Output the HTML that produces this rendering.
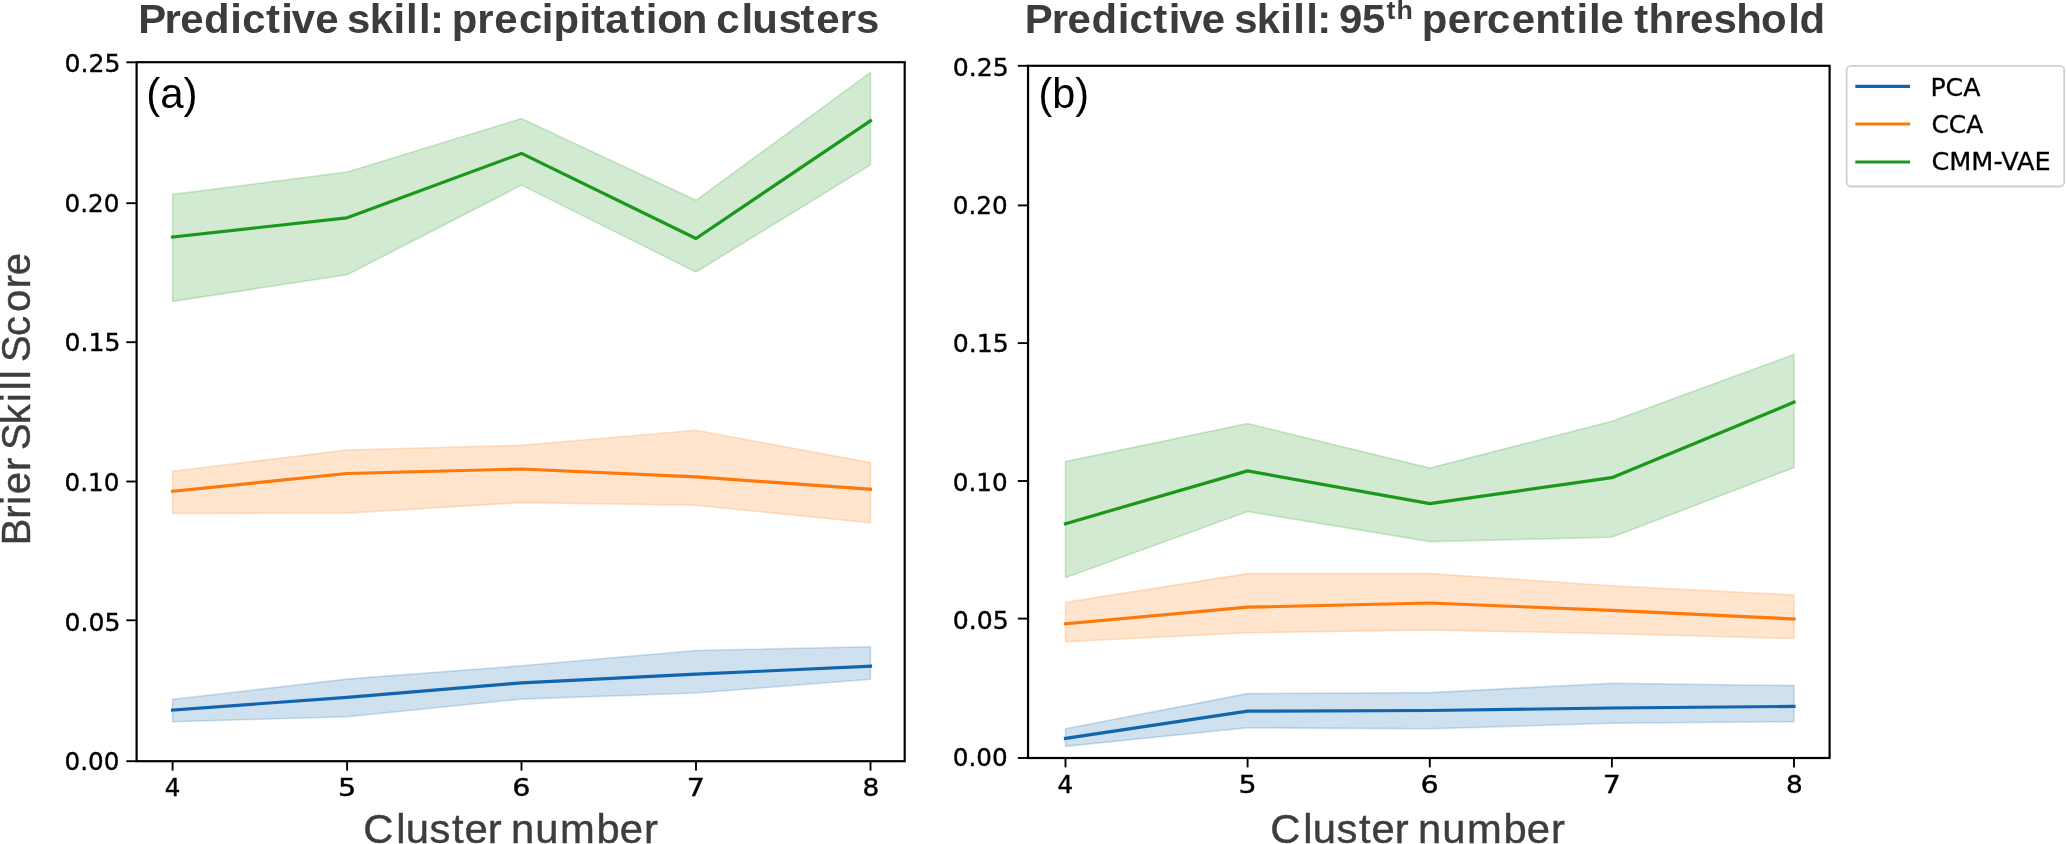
<!DOCTYPE html>
<html lang="en">
<head>
<meta charset="utf-8">
<title>Predictive skill</title>
<style>
html,body{margin:0;padding:0;background:#fff;}
body{width:2067px;height:844px;overflow:hidden;}
svg{display:block;filter:blur(0.45px);}
.tk{font-family:"DejaVu Sans","Liberation Sans",sans-serif;font-size:24.8px;fill:#000;stroke:#000;stroke-width:0.4px;}
.lg{font-family:"DejaVu Sans","Liberation Sans",sans-serif;font-size:24px;fill:#000;stroke:#000;stroke-width:0.3px;}
.ttl{font-family:"Liberation Sans","DejaVu Sans",sans-serif;font-weight:bold;font-size:40.7px;fill:#3c3c3c;}
.sup{font-size:26px;}
.pl{font-family:"Liberation Sans","DejaVu Sans",sans-serif;font-size:41.7px;fill:#000;}
.al{font-family:"Liberation Sans","DejaVu Sans",sans-serif;font-size:40px;fill:#3d3d3d;stroke:#3d3d3d;stroke-width:0.4px;}
</style>
</head>
<body>
<svg width="2067" height="844" viewBox="0 0 2067 844">
<rect width="2067" height="844" fill="#fff"/>
<text class="ttl" transform="translate(0 32.7) scale(1.0300 1)" x="134.26 159.59 175.09 198.12 223.49 235.18 258.22 273.10 283.30 306.06 333.30 336.96 358.89 381.94 394.17 406.79 417.45 434.56 438.57 463.47 479.80 503.82 525.87 537.50 562.62 573.71 587.71 612.30 626.99 638.10 661.86 690.53 695.52 719.80 730.46 755.79 777.25 792.42 815.32 831.08" y="0">Predictive skill: precipitation clusters</text>
<text class="ttl" transform="translate(0 32.7) scale(1.0300 1)" x="994.94 1021.05 1036.35 1059.78 1085.09 1096.59 1119.58 1134.66 1144.86 1166.84 1194.32 1198.36 1220.25 1242.96 1255.63 1268.20 1278.85 1295.29 1299.99 1322.26" y="0">Predictive skill: 95<tspan class="sup" x="1346.01 1355.79" dy="-13.4">th</tspan><tspan x="1376.75 1380.46 1405.52 1428.86 1443.82 1467.85 1490.60 1515.55 1530.53 1542.62 1553.97 1581.07 1586.57 1600.47 1625.42 1640.77 1663.70 1685.61 1709.66 1736.16 1747.15" dy="13.4"> percentile threshold</tspan></text>
<polygon points="172.6,699.4 347.1,679.1 521.5,665.7 696.0,650.5 870.5,646.8 870.5,679.2 696.0,693.0 521.5,699.1 347.1,716.8 172.6,721.7" fill="#1065ae" fill-opacity="0.2" stroke="#1065ae" stroke-opacity="0.2" stroke-width="1.6" stroke-linejoin="miter"/>
<polyline points="172.6,710.0 347.1,697.4 521.5,682.9 696.0,674.2 870.5,666.2" fill="none" stroke="#1065ae" stroke-width="3.2" stroke-linecap="square" stroke-linejoin="round"/>

<polygon points="172.6,471.3 347.1,450.0 521.5,445.3 696.0,430.3 870.5,462.6 870.5,522.8 696.0,505.2 521.5,502.6 347.1,513.1 172.6,513.5" fill="#ff790a" fill-opacity="0.2" stroke="#ff790a" stroke-opacity="0.2" stroke-width="1.6" stroke-linejoin="miter"/>
<polyline points="172.6,491.3 347.1,473.5 521.5,469.0 696.0,476.8 870.5,489.3" fill="none" stroke="#ff790a" stroke-width="3.2" stroke-linecap="square" stroke-linejoin="round"/>

<polygon points="172.6,194.4 347.1,172.0 521.5,118.6 696.0,200.3 870.5,72.4 870.5,164.9 696.0,272.0 521.5,185.1 347.1,274.8 172.6,301.4" fill="#1b971b" fill-opacity="0.2" stroke="#1b971b" stroke-opacity="0.2" stroke-width="1.6" stroke-linejoin="miter"/>
<polyline points="172.6,237.0 347.1,217.8 521.5,153.4 696.0,238.5 870.5,120.7" fill="none" stroke="#1b971b" stroke-width="3.2" stroke-linecap="square" stroke-linejoin="round"/>

<rect x="136.6" y="62.2" width="768.10" height="699.00" fill="none" stroke="#000" stroke-width="2.2"/>
<line x1="126.3" y1="62.3" x2="136.6" y2="62.3" stroke="#000" stroke-width="1.9"/>
<text class="tk" x="64.49" y="72.4" textLength="55.96" lengthAdjust="spacingAndGlyphs">0.25</text>
<line x1="126.3" y1="203.2" x2="136.6" y2="203.2" stroke="#000" stroke-width="1.9"/>
<text class="tk" x="64.51" y="211.6" textLength="54.91" lengthAdjust="spacingAndGlyphs">0.20</text>
<line x1="126.3" y1="342.2" x2="136.6" y2="342.2" stroke="#000" stroke-width="1.9"/>
<text class="tk" x="64.49" y="350.6" textLength="55.96" lengthAdjust="spacingAndGlyphs">0.15</text>
<line x1="126.3" y1="481.5" x2="136.6" y2="481.5" stroke="#000" stroke-width="1.9"/>
<text class="tk" x="64.51" y="491.4" textLength="54.91" lengthAdjust="spacingAndGlyphs">0.10</text>
<line x1="126.3" y1="620.3" x2="136.6" y2="620.3" stroke="#000" stroke-width="1.9"/>
<text class="tk" x="64.49" y="630.6" textLength="55.96" lengthAdjust="spacingAndGlyphs">0.05</text>
<line x1="126.3" y1="761.2" x2="136.6" y2="761.2" stroke="#000" stroke-width="1.9"/>
<text class="tk" x="64.51" y="769.5" textLength="54.91" lengthAdjust="spacingAndGlyphs">0.00</text>
<line x1="172.6" y1="761.2" x2="172.6" y2="770.6" stroke="#000" stroke-width="1.9"/>
<text class="tk" x="164.71" y="796.3" textLength="15.56" lengthAdjust="spacingAndGlyphs">4</text>
<line x1="347.1" y1="761.2" x2="347.1" y2="770.6" stroke="#000" stroke-width="1.9"/>
<text class="tk" x="337.90" y="796.3" textLength="18.15" lengthAdjust="spacingAndGlyphs">5</text>
<line x1="521.5" y1="761.2" x2="521.5" y2="770.6" stroke="#000" stroke-width="1.9"/>
<text class="tk" x="512.35" y="796.3" textLength="18.15" lengthAdjust="spacingAndGlyphs">6</text>
<line x1="696.0" y1="761.2" x2="696.0" y2="770.6" stroke="#000" stroke-width="1.9"/>
<text class="tk" x="686.80" y="796.3" textLength="18.15" lengthAdjust="spacingAndGlyphs">7</text>
<line x1="870.5" y1="761.2" x2="870.5" y2="770.6" stroke="#000" stroke-width="1.9"/>
<text class="tk" x="862.54" y="796.3" textLength="16.75" lengthAdjust="spacingAndGlyphs">8</text>

<text class="pl" x="146.18" y="107.9" textLength="51.39" lengthAdjust="spacingAndGlyphs">(a)</text>
<polygon points="1065.5,728.8 1247.6,693.6 1429.8,692.6 1611.9,683.3 1794.0,685.6 1794.0,721.7 1611.9,723.3 1429.8,728.8 1247.6,727.8 1065.5,746.4" fill="#1065ae" fill-opacity="0.2" stroke="#1065ae" stroke-opacity="0.2" stroke-width="1.6" stroke-linejoin="miter"/>
<polyline points="1065.5,738.4 1247.6,711.2 1429.8,710.5 1611.9,708.0 1794.0,706.4" fill="none" stroke="#1065ae" stroke-width="3.2" stroke-linecap="square" stroke-linejoin="round"/>

<polygon points="1065.5,602.4 1247.6,573.6 1429.8,573.6 1611.9,585.7 1794.0,595.0 1794.0,638.5 1611.9,633.7 1429.8,629.9 1247.6,632.8 1065.5,641.7" fill="#ff790a" fill-opacity="0.2" stroke="#ff790a" stroke-opacity="0.2" stroke-width="1.6" stroke-linejoin="miter"/>
<polyline points="1065.5,623.8 1247.6,607.2 1429.8,603.0 1611.9,610.4 1794.0,619.0" fill="none" stroke="#ff790a" stroke-width="3.2" stroke-linecap="square" stroke-linejoin="round"/>

<polygon points="1065.5,461.6 1247.6,423.5 1429.8,468.1 1611.9,421.3 1794.0,354.5 1794.0,467.6 1611.9,537.2 1429.8,541.6 1247.6,511.5 1065.5,577.7" fill="#1b971b" fill-opacity="0.2" stroke="#1b971b" stroke-opacity="0.2" stroke-width="1.6" stroke-linejoin="miter"/>
<polyline points="1065.5,523.7 1247.6,470.9 1429.8,503.6 1611.9,477.7 1794.0,402.2" fill="none" stroke="#1b971b" stroke-width="3.2" stroke-linecap="square" stroke-linejoin="round"/>

<rect x="1028.05" y="65.8" width="801.55" height="692.20" fill="none" stroke="#000" stroke-width="2.2"/>
<line x1="1017.8" y1="65.8" x2="1028.0" y2="65.8" stroke="#000" stroke-width="1.9"/>
<text class="tk" x="952.69" y="76.2" textLength="55.96" lengthAdjust="spacingAndGlyphs">0.25</text>
<line x1="1017.8" y1="205.4" x2="1028.0" y2="205.4" stroke="#000" stroke-width="1.9"/>
<text class="tk" x="952.71" y="213.8" textLength="54.91" lengthAdjust="spacingAndGlyphs">0.20</text>
<line x1="1017.8" y1="343.1" x2="1028.0" y2="343.1" stroke="#000" stroke-width="1.9"/>
<text class="tk" x="952.69" y="351.6" textLength="55.96" lengthAdjust="spacingAndGlyphs">0.15</text>
<line x1="1017.8" y1="481.0" x2="1028.0" y2="481.0" stroke="#000" stroke-width="1.9"/>
<text class="tk" x="952.71" y="490.9" textLength="54.91" lengthAdjust="spacingAndGlyphs">0.10</text>
<line x1="1017.8" y1="618.6" x2="1028.0" y2="618.6" stroke="#000" stroke-width="1.9"/>
<text class="tk" x="952.69" y="628.8" textLength="55.96" lengthAdjust="spacingAndGlyphs">0.05</text>
<line x1="1017.8" y1="758.0" x2="1028.0" y2="758.0" stroke="#000" stroke-width="1.9"/>
<text class="tk" x="952.71" y="766.3" textLength="54.91" lengthAdjust="spacingAndGlyphs">0.00</text>
<line x1="1065.5" y1="758.0" x2="1065.5" y2="767.4" stroke="#000" stroke-width="1.9"/>
<text class="tk" x="1057.61" y="793.1" textLength="15.56" lengthAdjust="spacingAndGlyphs">4</text>
<line x1="1247.6" y1="758.0" x2="1247.6" y2="767.4" stroke="#000" stroke-width="1.9"/>
<text class="tk" x="1238.40" y="793.1" textLength="18.15" lengthAdjust="spacingAndGlyphs">5</text>
<line x1="1429.8" y1="758.0" x2="1429.8" y2="767.4" stroke="#000" stroke-width="1.9"/>
<text class="tk" x="1420.55" y="793.1" textLength="18.15" lengthAdjust="spacingAndGlyphs">6</text>
<line x1="1611.9" y1="758.0" x2="1611.9" y2="767.4" stroke="#000" stroke-width="1.9"/>
<text class="tk" x="1602.70" y="793.1" textLength="18.15" lengthAdjust="spacingAndGlyphs">7</text>
<line x1="1794.0" y1="758.0" x2="1794.0" y2="767.4" stroke="#000" stroke-width="1.9"/>
<text class="tk" x="1786.04" y="793.1" textLength="16.75" lengthAdjust="spacingAndGlyphs">8</text>

<text class="pl" x="1038.62" y="107.9" textLength="50.52" lengthAdjust="spacingAndGlyphs">(b)</text>
<text class="al" transform="translate(0 843.0) scale(1.0450 1)" x="347.70 379.14 388.24 410.98 432.47 444.51 466.79 485.50 488.90 512.26 535.96 570.87 593.03 616.17" y="0">Cluster number</text>
<text class="al" transform="translate(0 843.0) scale(1.0450 1)" x="1215.64 1247.08 1256.18 1278.92 1300.41 1312.46 1334.74 1353.44 1356.84 1380.20 1403.90 1438.81 1460.97 1484.11" y="0">Cluster number</text>
<g transform="translate(29.8 0) rotate(-90)"><text class="al" transform="translate(0 0) scale(1.0000 1)" x="-545.33 -518.66 -504.98 -494.23 -471.11 -452.65 -450.08 -424.13 -402.33 -390.35 -379.30 -365.25 -362.03 -335.97 -312.12 -288.36 -275.13" y="0">Brier Skill Score</text></g>
<rect x="1846.6" y="65.9" width="217.6" height="120.6" rx="4.5" ry="4.5" fill="#fff" stroke="#cfcfcf" stroke-width="1.8"/>
<line x1="1855.3" y1="86.4" x2="1910.1" y2="86.4" stroke="#1065ae" stroke-width="3.2"/>
<text class="lg" x="1930.40" y="95.6" textLength="50.14" lengthAdjust="spacingAndGlyphs">PCA</text>
<line x1="1855.3" y1="124.0" x2="1910.1" y2="124.0" stroke="#ff790a" stroke-width="3.2"/>
<text class="lg" x="1931.46" y="133.2" textLength="51.77" lengthAdjust="spacingAndGlyphs">CCA</text>
<line x1="1855.3" y1="162.0" x2="1910.1" y2="162.0" stroke="#1b971b" stroke-width="3.2"/>
<text class="lg" x="1931.43" y="170.4" textLength="119.21" lengthAdjust="spacingAndGlyphs">CMM-VAE</text>
</svg>
</body>
</html>
